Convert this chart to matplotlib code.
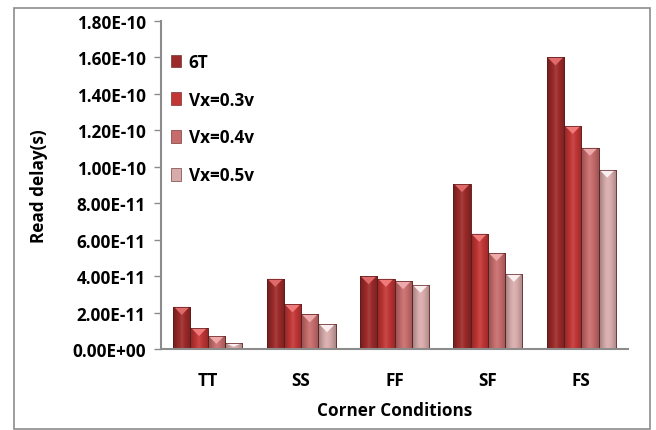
import matplotlib
matplotlib.use("Agg")
import matplotlib.pyplot as plt
import numpy as np
from matplotlib.patches import Rectangle, Polygon, Patch
from matplotlib.colors import to_rgb

# data
corners = ['TT', 'SS', 'FF', 'SF', 'FS']
series = ['6T', 'Vx=0.3v', 'Vx=0.4v', 'Vx=0.5v']
d_6t = [2.31e-11, 3.85e-11, 3.99e-11, 9.05e-11, 1.60e-10]
d_03 = [1.15e-11, 2.45e-11, 3.85e-11, 6.32e-11, 1.224e-10]
d_04 = [0.71e-11, 1.90e-11, 3.72e-11, 5.27e-11, 1.104e-10]
d_05 = [0.31e-11, 1.36e-11, 3.52e-11, 4.12e-11, 0.984e-10]
yticks = np.arange(0, 1.81e-10, 2e-11)

colors = ['#9c2a2a', '#c23636', '#c76c6c', '#d8abab']
tops = ['#e06a6a', '#f07a7a', '#eeaaaa', '#fbeeee']
FS = 12.3

plt.rcParams['font.family'] = ['Open Sans', 'DejaVu Sans']
plt.rcParams['font.weight'] = 'bold'

fig = plt.figure(figsize=(6.56, 4.31), dpi=100)
# outer chart border
fig.patches.append(Rectangle((14/656, 0.002), 636/656, 1 - 9/431 - 0.002,
                             transform=fig.transFigure, fill=False,
                             edgecolor='#8c8c8c', linewidth=1.2))
ax = fig.add_axes([161/656, 1 - 350/431, 467/656, 328/431])

def shade(c, f):
    r = np.array(to_rgb(c))
    if f < 1:
        return r * f
    return r + (1 - r) * (f - 1)

x = np.arange(len(corners))
w = 0.185
allvals = [d_6t, d_03, d_04, d_05]
px = 2e-11 / 36.4  # data units per pixel (vertical)
for k, vals in enumerate(allvals):
    xs = x + (k - 1.5) * w
    bars = ax.bar(xs, vals, width=w, color=colors[k], edgecolor='#5a1a1a',
                  linewidth=0.4, zorder=2)
    for b, h in zip(bars, vals):
        # horizontal shading across the bar
        grad = np.array([shade(colors[k], f) for f in
                         np.concatenate([np.linspace(0.75, 1.08, 8), np.linspace(1.08, 0.8, 8)])])
        im = ax.imshow(grad[None, :, :], extent=(b.get_x(), b.get_x() + w, 0, h),
                       aspect='auto', zorder=2.1, interpolation='bilinear')
        im.set_clip_path(b)
        d = min(8 * px, h * 0.6)
        tri = Polygon([[b.get_x() + 0.05 * w, h], [b.get_x() + 0.95 * w, h],
                       [b.get_x() + w / 2, h - d]], closed=True,
                      facecolor=tops[k], edgecolor='none', zorder=2.2)
        ax.add_patch(tri)
        ax.add_patch(Rectangle((b.get_x(), 0), w, h, fill=False,
                               edgecolor='#5a1a1a', linewidth=0.5, zorder=2.3))

ax.set_xlim(-0.5, len(corners) - 0.5)
ax.set_ylim(0, 1.8e-10)
ax.set_yticks(yticks)
ax.set_yticklabels(['%.2E' % v for v in yticks], fontsize=FS, fontweight='bold')
ax.set_xticks(x)
ax.set_xticklabels(corners, fontsize=FS, fontweight='bold')
ax.tick_params(axis='x', length=0, pad=16)
ax.tick_params(axis='y', length=5, color='#8c8c8c', width=1, pad=6)
for s in ['top', 'right']:
    ax.spines[s].set_visible(False)
for s in ['left', 'bottom']:
    ax.spines[s].set_color('#8c8c8c')
    ax.spines[s].set_linewidth(1.5)
ax.set_ylabel('Read delay(s)', fontsize=FS, fontweight='bold')
ax.yaxis.set_label_coords(-0.242, 0.5)
ax.set_xlabel('Corner Conditions', fontsize=FS, fontweight='bold')
ax.xaxis.set_label_coords(0.5, -0.16)

handles = [Patch(facecolor=colors[k], edgecolor='#5a1a1a', linewidth=0.4) for k in range(4)]
ax.legend(handles, series, loc='upper left', bbox_to_anchor=(-0.012, 0.95),
          frameon=False, handlelength=0.6, handleheight=0.75,
          handletextpad=0.45, labelspacing=1.16, prop={'weight': 'bold', 'size': FS})

fig.savefig('out.png', dpi=100)
